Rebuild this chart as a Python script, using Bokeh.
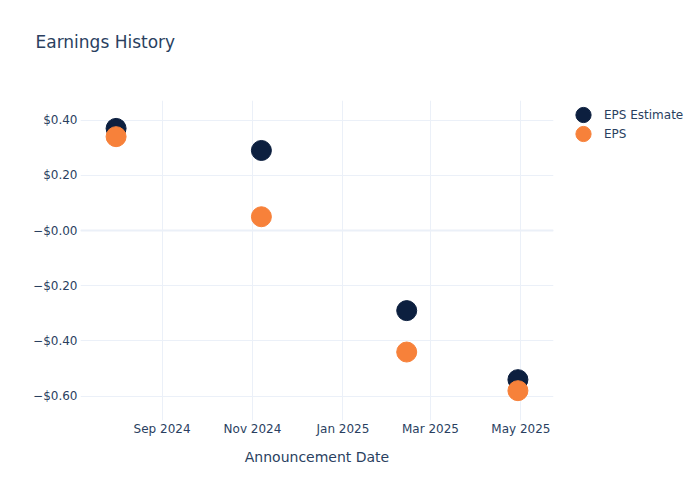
from datetime import datetime
from bokeh.plotting import figure
from bokeh.models import (ColumnDataSource, FixedTicker, DatetimeTickFormatter,
                          CustomJSTickFormatter, Range1d, Span, Legend, LegendItem, Title)
from bokeh.embed import file_html
from bokeh.resources import INLINE

# ---- data ----
dates = ["2024-08-01", "2024-11-07", "2025-02-13", "2025-04-29"]
eps_estimate = [0.37, 0.29, -0.29, -0.54]
eps_actual = [0.34, 0.05, -0.44, -0.58]
x_tick_dates = ["2024-09-01", "2024-11-01", "2025-01-01", "2025-03-01", "2025-05-01"]
y_ticks = [-0.6, -0.4, -0.2, 0.0, 0.2, 0.4]
series_labels = ["EPS Estimate", "EPS"]
chart_title = "Earnings History"

NAVY = "#0c1f3f"
ORANGE = "#f7813a"
TEXT = "#2a3f5f"
GRID = "#ebf0f8"
FONT = "DejaVu Sans"

def to_dt(s):
    return datetime.strptime(s, "%Y-%m-%d")

x = [to_dt(d) for d in dates]
src = ColumnDataSource(dict(x=x, est=eps_estimate, eps=eps_actual))

p = figure(width=692, height=492, x_axis_type="datetime",
           output_backend="svg", toolbar_location=None,
           x_range=Range1d(datetime(2024, 7, 8), datetime(2025, 5, 23)),
           y_range=Range1d(-0.688, 0.471),
           min_border_left=80, min_border_right=139,
           min_border_top=100, min_border_bottom=72)
p.frame_width = 473
p.frame_height = 320
p.title_location = None

# a blank spacer next to the plot area, then the title above it
p.add_layout(Title(text=" ", standoff=41, text_font_size="1px",
                   text_color="white"), "above")
p.add_layout(Title(text=chart_title, text_font=FONT, text_font_size="17px",
                   text_font_style="normal", text_color=TEXT,
                   align="left", offset=-45, standoff=10), "above")

p.outline_line_color = None
p.background_fill_color = "white"
p.border_fill_color = "white"

# axes
xa = p.xaxis[0]
xa.ticker = FixedTicker(ticks=[to_dt(d).timestamp() * 1000 for d in x_tick_dates])
xa.formatter = DatetimeTickFormatter(months="%b %Y", days="%b %Y")
xa.axis_line_color = None
xa.major_tick_line_color = None
xa.minor_tick_line_color = None
xa.major_tick_out = 0
xa.major_tick_in = 0
xa.major_label_standoff = 1
xa.major_label_text_font = FONT
xa.major_label_text_font_size = "12px"
xa.major_label_text_color = TEXT
xa.axis_label = "Announcement Date"
xa.axis_label_text_font = FONT
xa.axis_label_text_font_size = "14px"
xa.axis_label_text_font_style = "normal"
xa.axis_label_text_color = TEXT
xa.axis_label_standoff = 10

ya = p.yaxis[0]
ya.ticker = FixedTicker(ticks=y_ticks)
ya.formatter = CustomJSTickFormatter(code="""
    const v = Math.abs(tick).toFixed(2);
    return (tick <= 0 ? "\\u2212" : "") + "$" + v;
""")
ya.axis_line_color = None
ya.major_tick_line_color = None
ya.minor_tick_line_color = None
ya.major_tick_out = 0
ya.major_tick_in = 0
ya.major_label_standoff = 3
ya.major_label_text_font = FONT
ya.major_label_text_font_size = "12px"
ya.major_label_text_color = TEXT

p.xgrid.grid_line_color = GRID
p.ygrid.grid_line_color = GRID
p.xgrid.grid_line_width = 1
p.ygrid.grid_line_width = 1

p.add_layout(Span(location=0, dimension="width", line_color=GRID, line_width=2))

r1 = p.ellipse("x", "est", width=20, height=20, width_units="screen",
               height_units="screen", source=src,
               fill_color=NAVY, line_color=NAVY)
r2 = p.ellipse("x", "eps", width=20, height=20, width_units="screen",
               height_units="screen", source=src,
               fill_color=ORANGE, line_color=ORANGE)

lg = Legend(items=[LegendItem(label=series_labels[0], renderers=[r1]),
                   LegendItem(label=series_labels[1], renderers=[r2])],
            location=(20, 277), orientation="vertical",
            glyph_width=20, glyph_height=19, label_height=19,
            label_standoff=11, padding=0, margin=0, spacing=0,
            border_line_color=None, background_fill_alpha=0,
            label_text_font=FONT, label_text_font_size="12px",
            label_text_color=TEXT)
p.add_layout(lg, "right")

open("out.html", "w").write(file_html(p, INLINE))
